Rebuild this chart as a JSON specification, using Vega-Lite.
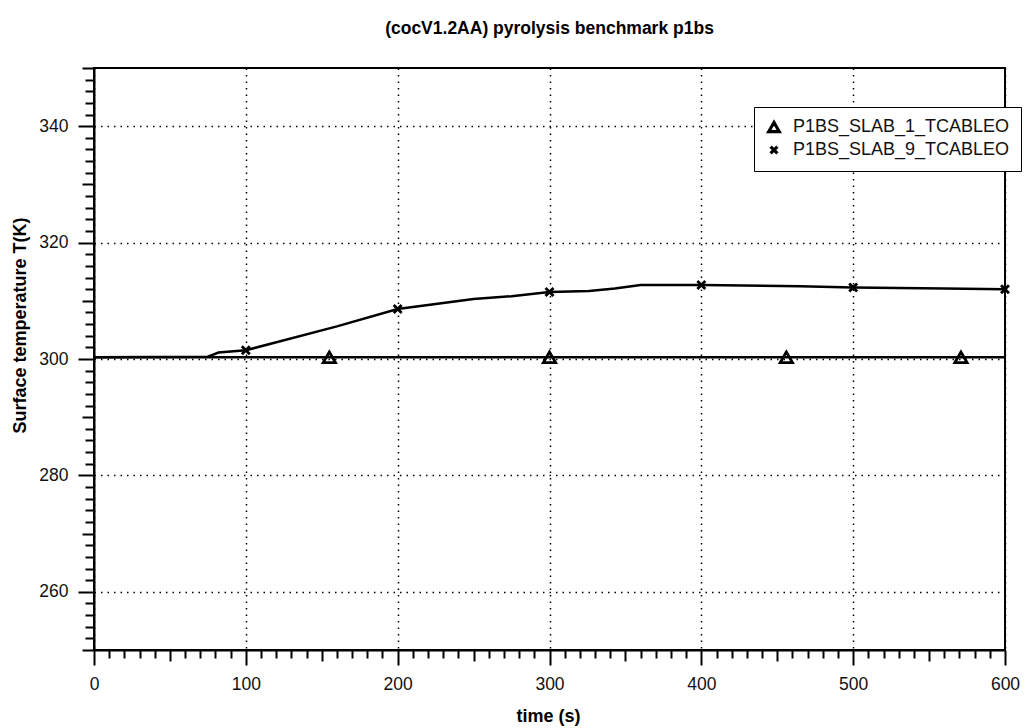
{
  "$schema": "https://vega.github.io/schema/vega-lite/v6.json",
  "width": 911,
  "height": 582,
  "autosize": {"type": "none"},
  "padding": {"left": 94, "top": 68, "right": 23, "bottom": 78},
  "background": "white",
  "title": {
    "text": "(cocV1.2AA) pyrolysis benchmark p1bs",
    "font": "Liberation Sans",
    "fontSize": 17.5,
    "fontWeight": "bold",
    "color": "#000",
    "anchor": "middle",
    "offset": 22
  },
  "config": {
    "view": {"stroke": "#000", "strokeWidth": 2},
    "axis": {
      "labelFont": "Liberation Sans",
      "labelFontSize": 17.5,
      "labelColor": "#111",
      "labelFlush": false,
      "titleFont": "Liberation Sans",
      "titleFontSize": 18,
      "titleFontWeight": "bold",
      "titleColor": "#000",
      "domainColor": "#000",
      "domainWidth": 2,
      "tickColor": "#000",
      "tickWidth": 2,
      "gridColor": "#000",
      "gridWidth": 1.5,
      "gridDash": [1.5, 5],
      "labelOverlap": false
    }
  },
  "datasets": {
    "lines": [
      {"series": "P1BS_SLAB_1_TCABLEO", "time": 0, "temp": 300.3},
      {"series": "P1BS_SLAB_1_TCABLEO", "time": 250, "temp": 300.3},
      {"series": "P1BS_SLAB_1_TCABLEO", "time": 600, "temp": 300.3},
      {"series": "P1BS_SLAB_9_TCABLEO", "time": 0, "temp": 300.3},
      {"series": "P1BS_SLAB_9_TCABLEO", "time": 75, "temp": 300.4},
      {"series": "P1BS_SLAB_9_TCABLEO", "time": 82, "temp": 301.1},
      {"series": "P1BS_SLAB_9_TCABLEO", "time": 100, "temp": 301.5},
      {"series": "P1BS_SLAB_9_TCABLEO", "time": 160, "temp": 305.6},
      {"series": "P1BS_SLAB_9_TCABLEO", "time": 200, "temp": 308.6},
      {"series": "P1BS_SLAB_9_TCABLEO", "time": 250, "temp": 310.3},
      {"series": "P1BS_SLAB_9_TCABLEO", "time": 275, "temp": 310.8},
      {"series": "P1BS_SLAB_9_TCABLEO", "time": 300, "temp": 311.5},
      {"series": "P1BS_SLAB_9_TCABLEO", "time": 326, "temp": 311.7},
      {"series": "P1BS_SLAB_9_TCABLEO", "time": 343, "temp": 312.1},
      {"series": "P1BS_SLAB_9_TCABLEO", "time": 360, "temp": 312.7},
      {"series": "P1BS_SLAB_9_TCABLEO", "time": 400, "temp": 312.7},
      {"series": "P1BS_SLAB_9_TCABLEO", "time": 465, "temp": 312.5},
      {"series": "P1BS_SLAB_9_TCABLEO", "time": 500, "temp": 312.3},
      {"series": "P1BS_SLAB_9_TCABLEO", "time": 560, "temp": 312.1},
      {"series": "P1BS_SLAB_9_TCABLEO", "time": 600, "temp": 312.0}
    ],
    "markers": [
      {"series": "P1BS_SLAB_1_TCABLEO", "time": 155, "temp": 300.3},
      {"series": "P1BS_SLAB_1_TCABLEO", "time": 300, "temp": 300.3},
      {"series": "P1BS_SLAB_1_TCABLEO", "time": 456, "temp": 300.3},
      {"series": "P1BS_SLAB_1_TCABLEO", "time": 571, "temp": 300.3},
      {"series": "P1BS_SLAB_9_TCABLEO", "time": 100, "temp": 301.5},
      {"series": "P1BS_SLAB_9_TCABLEO", "time": 200, "temp": 308.6},
      {"series": "P1BS_SLAB_9_TCABLEO", "time": 300, "temp": 311.5},
      {"series": "P1BS_SLAB_9_TCABLEO", "time": 400, "temp": 312.7},
      {"series": "P1BS_SLAB_9_TCABLEO", "time": 500, "temp": 312.3},
      {"series": "P1BS_SLAB_9_TCABLEO", "time": 600, "temp": 312.0}
    ]
  },
  "encoding": {
    "x": {
      "field": "time",
      "type": "quantitative",
      "scale": {"domain": [0, 600], "nice": false, "zero": false},
      "axis": {
        "title": "time (s)",
        "titleX": 454,
        "titleY": 66,
        "titleBaseline": "middle",
        "titleAlign": "center",
        "values": [0,10,20,30,40,50,60,70,80,90,100,110,120,130,140,150,160,170,180,190,200,210,220,230,240,250,260,270,280,290,300,310,320,330,340,350,360,370,380,390,400,410,420,430,440,450,460,470,480,490,500,510,520,530,540,550,560,570,580,590,600],
        "labelExpr": "datum.value % 100 === 0 ? datum.label : ''",
        "labelPadding": 10,
        "tickSize": {"condition": [{"test": "datum.value % 100 === 0", "value": 15}, {"test": "datum.value % 50 === 0", "value": 11}], "value": 8},
        "gridOpacity": {"condition": {"test": "datum.value % 100 === 0", "value": 1}, "value": 0}
      }
    },
    "y": {
      "field": "temp",
      "type": "quantitative",
      "scale": {"domain": [250, 350], "nice": false, "zero": false},
      "axis": {
        "title": "Surface temperature T(K)",
        "titleX": -74,
        "titleY": 257,
        "titleAngle": -90,
        "titleBaseline": "middle",
        "titleAlign": "center",
        "values": [250,252,254,256,258,260,262,264,266,268,270,272,274,276,278,280,282,284,286,288,290,292,294,296,298,300,302,304,306,308,310,312,314,316,318,320,322,324,326,328,330,332,334,336,338,340,342,344,346,348,350],
        "labelExpr": "datum.value % 20 === 0 ? datum.label : ''",
        "labelPadding": 10,
        "tickSize": {"condition": [{"test": "datum.value % 20 === 0", "value": 16}, {"test": "datum.value % 10 === 0", "value": 12}], "value": 9},
        "gridOpacity": {"condition": {"test": "datum.value % 20 === 0", "value": 1}, "value": 0}
      }
    }
  },
  "layer": [
    {
      "data": {"name": "lines"},
      "mark": {"type": "line", "color": "#000", "strokeWidth": 2.5},
      "encoding": {"detail": {"field": "series"}}
    },
    {
      "data": {"name": "markers"},
      "mark": {"type": "point", "filled": false, "color": "#000", "strokeWidth": 2.8, "opacity": 1, "size": 150},
      "encoding": {
        "shape": {
          "field": "series",
          "type": "nominal",
          "scale": {"domain": ["P1BS_SLAB_1_TCABLEO", "P1BS_SLAB_9_TCABLEO"], "range": ["triangle-up", "M-0.65,-0.65L0.65,0.65M-0.65,0.65L0.65,-0.65"]},
          "legend": {
            "title": null,
            "orient": "none",
            "legendX": 660,
            "legendY": 39,
            "fillColor": "white",
            "strokeColor": "#000",
            "padding": 11,
            "rowPadding": 2,
            "labelFont": "Liberation Sans",
            "labelFontSize": 18,
            "labelColor": "#111",
            "labelLimit": 400,
            "labelOffset": 10,
            "symbolSize": 110,
            "symbolStrokeColor": "#000",
            "symbolStrokeWidth": 3.2,
            "symbolFillColor": "white",
            "encode": {"legend": {"update": {"strokeWidth": {"value": 1.5}}}}
          }
        }
      }
    }
  ]
}
